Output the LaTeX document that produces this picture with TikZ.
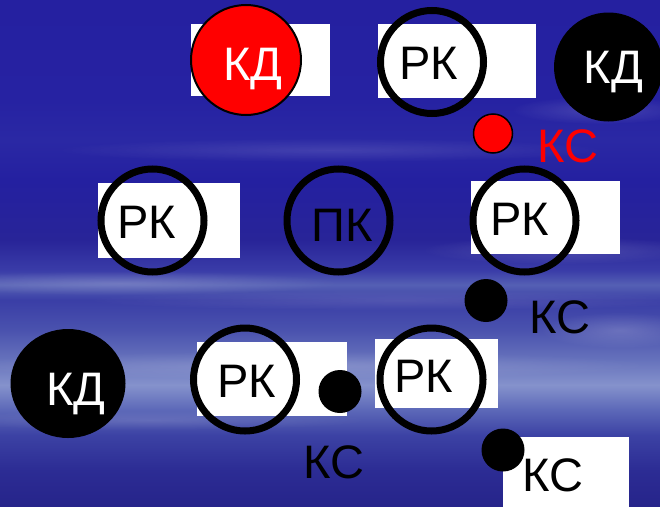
\documentclass[tikz,border=0pt]{standalone}
\usepackage{fontspec}
\setmainfont{Liberation Sans}
\usetikzlibrary{shapes.geometric,fadings}
\definecolor{bgA}{HTML}{26248A}
\definecolor{bgB}{HTML}{2C2C94}
\definecolor{bgC}{HTML}{3C42A4}
\definecolor{bgD}{HTML}{5C68B8}
\definecolor{bgE}{HTML}{8592CC}
\definecolor{bgF}{HTML}{6672BC}
\definecolor{bgG}{HTML}{4A52AE}
\definecolor{bgH}{HTML}{3A3EA6}
\definecolor{bgI}{HTML}{5560B4}
\definecolor{bgJ}{HTML}{3A3CA8}
\definecolor{bgK}{HTML}{282498}
\definecolor{bgL}{HTML}{2420A0}
\definecolor{bgM}{HTML}{2A28A4}
\definecolor{bgN}{HTML}{2622A2}
\definecolor{bgO}{HTML}{2520A0}
\definecolor{kdred}{HTML}{FF0000}
\pgfdeclareverticalshading{bgshade}{100bp}{color(0bp)=(bgA); color(25bp)=(bgA); color(28.55bp)=(bgB); color(32bp)=(bgC); color(34.5bp)=(bgD); color(36.95bp)=(bgE); color(39.45bp)=(bgF); color(42.4bp)=(bgG); color(45.35bp)=(bgH); color(46.85bp)=(bgI); color(48.3bp)=(bgJ); color(51.3bp)=(bgK); color(57.2bp)=(bgL); color(61.15bp)=(bgM); color(65.1bp)=(bgN); color(75bp)=(bgO); color(100bp)=(bgO)}
\tikzfading[name=softedge, inner color=transparent!0, outer color=transparent!100]
\begin{document}
\begin{tikzpicture}[x=1pt,y=-1pt,
  whitebox/.style={fill=white, anchor=north west, inner sep=0pt, minimum width=#1},
  ring/.style={circle, draw=black, line width=7pt, minimum size=103pt, inner sep=0pt},
  kdred/.style={circle, fill=kdred, draw=black, line width=2pt, minimum size=110pt, inner sep=0pt},
  kdblack/.style={ellipse, fill=black, inner sep=0pt},
  disc/.style={circle, fill=black, minimum size=43pt, inner sep=0pt},
  reddisc/.style={circle, fill=kdred, draw=black, line width=1.5pt, minimum size=39pt, inner sep=0pt},
  lbl/.style={font=\fontsize{47}{47}\selectfont, inner sep=0pt, anchor=base},
  streak/.style={fill=white, opacity=#1, path fading=softedge}]
\useasboundingbox (0,0) rectangle (660,506);
\shade[shading=bgshade] (0,0) rectangle (660,506);
% soft streaks
\fill[streak=0.12] (330,150) ellipse (280 and 12);
\fill[streak=0.15] (600,110) ellipse (90 and 14);
\fill[streak=0.18] (120,283) ellipse (220 and 12);
\fill[streak=0.14] (560,250) ellipse (140 and 14);
\fill[streak=0.12] (400,300) ellipse (320 and 10);
\fill[streak=0.18] (620,330) ellipse (80 and 18);
\fill[streak=0.16] (300,365) ellipse (350 and 14);
\fill[streak=0.12] (150,420) ellipse (220 and 10);
% white boxes
\node[whitebox=139pt, minimum height=72pt] (wA) at (191,24) {};
\node[whitebox=158pt, minimum height=74pt] (wB) at (378,24) {};
\node[whitebox=142pt, minimum height=75pt] (wC) at (97.5,183) {};
\node[whitebox=149.5pt, minimum height=73.5pt] (wD) at (470.5,180.5) {};
\node[whitebox=150pt, minimum height=74.5pt] (wE) at (197,341.5) {};
\node[whitebox=123pt, minimum height=69pt] (wF) at (374.5,339) {};
\node[whitebox=126pt, minimum height=72pt] (wG) at (503,436.5) {};
% circles
\node[kdred] (kd1) at (246,60) {};
\node[ring] (rk1) at (432,62) {};
\node[kdblack, minimum width=109pt, minimum height=109pt] (kd2) at (608.5,67) {};
\node[reddisc] (ks1) at (493,133.5) {};
\node[ring] (rk2) at (152.5,220.5) {};
\node[ring] (pk) at (338.5,220.5) {};
\node[ring] (rk3) at (524.5,220.5) {};
\node[disc] (ks2) at (486,300.5) {};
\node[kdblack, minimum width=115pt, minimum height=109pt] (kd3) at (68,383.5) {};
\node[ring] (rk4) at (245,379.5) {};
\node[ring] (rk5) at (431.5,379.5) {};
\node[disc] (ks3) at (340,391.5) {};
\node[disc] (ks4) at (503,450) {};
% labels
\node[lbl, text=white] (tkd1) at (253,80) {КД};
\node[lbl] (trk1) at (428.5,79) {РК};
\node[lbl, text=white] (tkd2) at (613.5,83) {КД};
\node[lbl, text=kdred] (tks1) at (568,162) {КС};
\node[lbl] (trk2) at (147,238) {РК};
\node[lbl] (tpk) at (342,241) {ПК};
\node[lbl] (trk3) at (519.5,235) {РК};
\node[lbl] (tks2) at (560,333) {КС};
\node[lbl, text=white] (tkd3) at (76,405) {КД};
\node[lbl] (trk4) at (247,397) {РК};
\node[lbl] (trk5) at (423.5,392.5) {РК};
\node[lbl] (tks3) at (334,478) {КС};
\node[lbl] (tks4) at (553,491) {КС};
\end{tikzpicture}
\end{document}
